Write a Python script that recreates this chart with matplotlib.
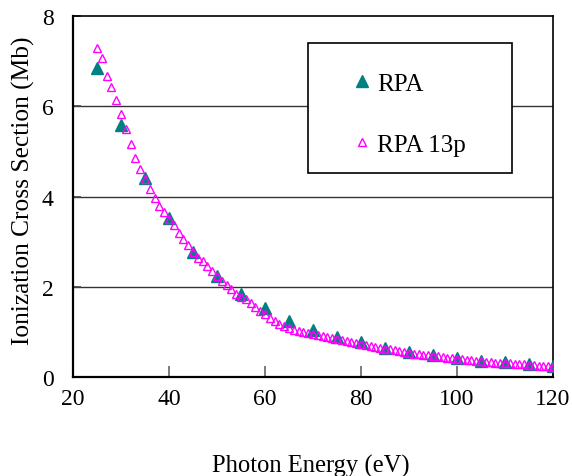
import numpy as np
import matplotlib.pyplot as plt
from matplotlib.patches import Rectangle

plt.rcParams['font.family'] = ['Liberation Serif', 'DejaVu Serif']

# RPA: every 5 eV
energy_rpa = np.arange(25, 121, 5)
sigma_rpa = [6.84, 5.58, 4.40, 3.52, 2.78, 2.24, 1.84, 1.52, 1.24, 1.04,
             0.89, 0.77, 0.65, 0.56, 0.49, 0.41, 0.36, 0.33, 0.29, 0.25]

# RPA 13p: every 1 eV
energy_13p = np.arange(25, 121, 1)
sigma_13p = [7.30, 7.07, 6.67, 6.42, 6.13, 5.83, 5.49, 5.16, 4.85, 4.62,   # 25-34
             4.38, 4.17, 3.96, 3.80, 3.66, 3.51, 3.36, 3.20, 3.05, 2.92,   # 35-44
             2.76, 2.64, 2.57, 2.47, 2.34, 2.24, 2.13, 2.03, 1.94, 1.84,   # 45-54
             1.78, 1.73, 1.64, 1.55, 1.47, 1.39, 1.31, 1.25, 1.18, 1.13,   # 55-64
             1.08, 1.04, 1.01, 0.99, 0.97, 0.96, 0.93, 0.90, 0.88, 0.86,   # 65-74
             0.84, 0.82, 0.80, 0.78, 0.75, 0.73, 0.71, 0.69, 0.67, 0.65,   # 75-84
             0.63, 0.61, 0.59, 0.57, 0.55, 0.53, 0.52, 0.51, 0.49, 0.48,   # 85-94
             0.47, 0.46, 0.44, 0.43, 0.42, 0.40, 0.39, 0.38, 0.37, 0.36,   # 95-104
             0.35, 0.34, 0.33, 0.32, 0.31, 0.31, 0.30, 0.29, 0.29, 0.28,   # 105-114
             0.27, 0.26, 0.25, 0.25, 0.24, 0.23]                           # 115-120

x_ticks = [20, 40, 60, 80, 100, 120]
y_ticks = [0, 2, 4, 6, 8]

fig = plt.figure(figsize=(5.72, 4.77), dpi=100)
W, H = 572, 477
ax = fig.add_axes([73 / W, 1 - 378 / H, (553 - 73) / W, (378 - 17) / H])

ax.plot(energy_rpa, sigma_rpa, ls='none', marker='^', ms=8.5,
        color='#008080', mec='#008080', label='RPA', zorder=3)
ax.plot(energy_13p, sigma_13p, ls='none', marker='^', ms=6, mfc='none',
        mec='#FF00FF', mew=1.0, label='RPA 13p', zorder=4)

ax.set_xlim(20, 120)
ax.set_ylim(0, 8)
ax.set_xticks(x_ticks)
ax.set_yticks(y_ticks)
for y in y_ticks[1:-1]:
    ax.axhline(y, color='#333333', lw=1.0, zorder=1)

ax.tick_params(axis='x', direction='in', length=8, width=1.2, color='#666666',
               labelsize=17, pad=8)
ax.tick_params(axis='y', direction='in', length=6, width=1.2, color='#444444',
               labelsize=17, pad=14)
for side in ['left', 'bottom']:
    ax.spines[side].set_linewidth(1.6)
for side in ['top', 'right']:
    ax.spines[side].set_linewidth(1.2)

ax.set_xlabel('Photon Energy (eV)', fontsize=17.7)
ax.xaxis.set_label_coords(0.496, -0.213)
ax.xaxis.label.set_va('top')
ax.set_ylabel('Ionization Cross Section (Mb)', fontsize=18.3)
ax.yaxis.set_label_coords(-0.104, 0.518)
ax.yaxis.label.set_va('center')

# legend box
x0, x1 = (308 - 73) / 480, (512 - 73) / 480
y0, y1 = (378 - 174) / 361, (378 - 44) / 361
ax.add_patch(Rectangle((x0, y0), x1 - x0, y1 - y0, transform=ax.transAxes,
                       facecolor='white', edgecolor='black', lw=1.2, zorder=5))
leg = ax.legend(loc='center left', bbox_to_anchor=((356 - 73) / 480, (378 - 115) / 361),
                frameon=False, fontsize=18, handlelength=0.5, handletextpad=0.35,
                labelspacing=1.52, borderpad=0, borderaxespad=0)
leg.set_zorder(6)

fig.savefig('out.png', dpi=100)
